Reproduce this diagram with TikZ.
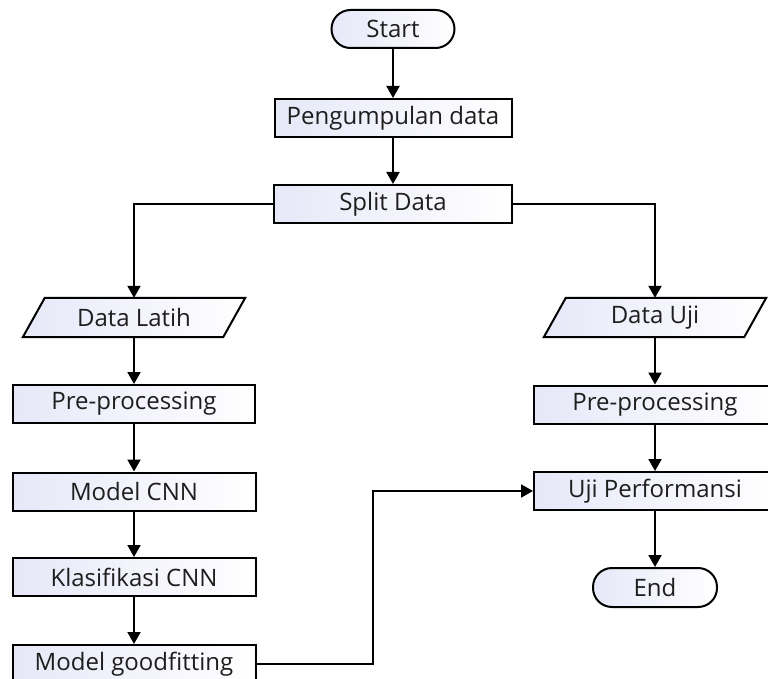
\documentclass[tikz,border=0pt]{standalone}
\usepackage{fontspec}
\setmainfont{Open Sans}
\usetikzlibrary{arrows.meta}
\definecolor{boxtint}{RGB}{230,232,248}
\definecolor{inktext}{RGB}{30,30,30}
\tikzset{
  x=1pt, y=-1pt,
  label font/.style={font=\fontsize{24}{26}\selectfont},
  base/.style={line width=2pt, draw=black, left color=boxtint, right color=white,
    text=inktext, label font, inner sep=0pt},
  procbox/.style={base, rectangle, minimum height=38pt},
  termbox/.style={base, rectangle, rounded corners=19pt, minimum width=123pt, minimum height=38pt},
  iobox/.style={rectangle, text=inktext, label font, inner sep=0pt,
    minimum width=200pt, minimum height=39pt},
  ioshape/.style={left color=boxtint, right color=white, draw=black, line width=2pt},
  flow/.style={line width=2pt, -{Triangle[width=13pt,length=12pt]}}
}
\begin{document}
\begin{tikzpicture}
\clip (0,0) rectangle (768,679);
\fill[white] (0,0) rectangle (768,679);

% top part
\node[termbox] (start) at (393,29) {Start};
\node[procbox, minimum width=237pt] (collect) at (393,118) {Pengumpulan data};
\node[procbox, minimum width=238pt] (split) at (393,204) {Split Data};

% input/output parallelograms
\node[iobox] (train) at (134,317.5) {};
\shade[ioshape]
  ([xshift=11pt]train.north west) -- ([xshift=11pt]train.north east)
  -- ([xshift=-11pt]train.south east) -- ([xshift=-11pt]train.south west) -- cycle;
\node[iobox] at (train.center) {Data Latih};

\node[iobox] (test) at (655,317.5) {};
\shade[ioshape]
  ([xshift=11pt]test.north west) -- ([xshift=11pt]test.north east)
  -- ([xshift=-11pt]test.south east) -- ([xshift=-11pt]test.south west) -- cycle;
\node[iobox] at (test.center) {Data Uji};

% left column
\node[procbox, minimum width=242pt] (preL) at (134,404) {Pre-processing};
\node[procbox, minimum width=243pt] (cnn) at (134,491.5) {Model CNN};
\node[procbox, minimum width=243pt] (klas) at (134,577) {Klasifikasi CNN};
\node[procbox, minimum width=243pt] (fit) at (134,664) {Model goodfitting};

% right column
\node[procbox, minimum width=242pt] (preR) at (655,404.5) {Pre-processing};
\node[procbox, minimum width=242pt] (perf) at (655,491) {Uji Performansi};
\node[termbox, minimum width=124pt, minimum height=39pt] (end) at (655,587.5) {End};

% connectors
\draw[flow] (start) -- (collect);
\draw[flow] (collect) -- (split);
\draw[flow] (split.west) -| (train.north);
\draw[flow] (split.east) -| (test.north);
\draw[flow] (train) -- (preL);
\draw[flow] (preL) -- (cnn);
\draw[flow] (cnn) -- (klas);
\draw[flow] (klas) -- (fit);
\draw[flow] (test) -- (preR);
\draw[flow] (preR) -- (perf);
\draw[flow] (perf) -- (end);
\coordinate (bend) at (373,0);
\draw[flow] (fit.east) -| (bend |- perf.west) -- (perf.west);
\end{tikzpicture}
\end{document}
